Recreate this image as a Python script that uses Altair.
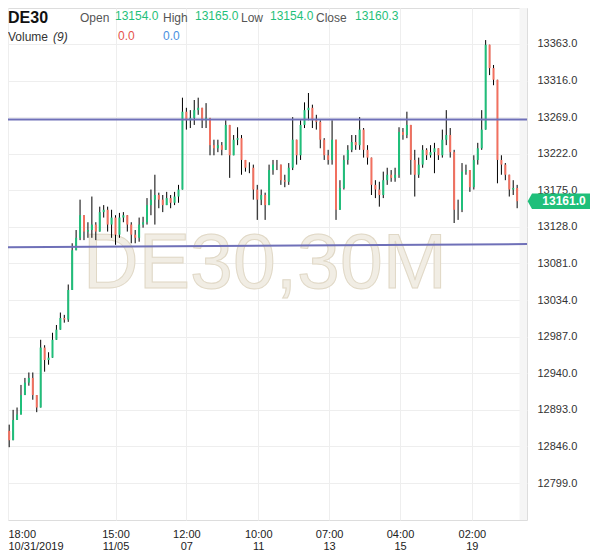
import json
import altair as alt
import pandas as pd

# ---- data (DE30, 30-minute candles, ~2 candles per point) ----
first_open = 12866
closes = [12854, 12880, 12887, 12912, 12928, 12934, 12912, 12896, 12973, 12957,
          12960, 12983, 12996, 13011, 13009, 13047, 13098, 13114, 13143, 13122,
          13124, 13131, 13122, 13147, 13150, 13131, 13140, 13118, 13140, 13143,
          13131, 13118, 13114, 13131, 13134, 13156, 13163, 13169, 13163, 13156,
          13165, 13159, 13167, 13176, 13276, 13265, 13268, 13278, 13281, 13265,
          13268, 13233, 13229, 13233, 13227, 13259, 13220, 13240, 13242, 13214,
          13204, 13204, 13176, 13163, 13169, 13156, 13201, 13208, 13208, 13188,
          13186, 13204, 13240, 13220, 13259, 13278, 13281, 13265, 13263, 13240,
          13220, 13214, 13240, 13150, 13178, 13214, 13227, 13237, 13233, 13253,
          13227, 13217, 13182, 13176, 13169, 13188, 13195, 13191, 13195, 13250,
          13246, 13259, 13214, 13195, 13208, 13227, 13220, 13224, 13229, 13220,
          13240, 13246, 13224, 13150, 13150, 13199, 13201, 13179, 13214, 13229,
          13253, 13362, 13332, 13317, 13214, 13208, 13195, 13176, 13178, 13161]
highs = [12874, 12893, 12896, 12925, 12934, 12941, 12941, 12908, 12983, 12976,
         12967, 12992, 13002, 13018, 13015, 13054, 13107, 13124, 13163, 13131,
         13134, 13167, 13134, 13154, 13156, 13154, 13150, 13143, 13146, 13147,
         13143, 13134, 13124, 13140, 13141, 13165, 13176, 13195, 13172, 13169,
         13173, 13169, 13173, 13182, 13294, 13281, 13278, 13291, 13294, 13278,
         13287, 13268, 13240, 13240, 13237, 13265, 13259, 13246, 13256, 13246,
         13214, 13211, 13208, 13182, 13176, 13172, 13208, 13214, 13214, 13208,
         13195, 13210, 13269, 13240, 13265, 13288, 13300, 13285, 13272, 13265,
         13242, 13227, 13265, 13240, 13188, 13220, 13233, 13246, 13246, 13269,
         13255, 13233, 13214, 13188, 13186, 13199, 13204, 13201, 13204, 13256,
         13255, 13276, 13255, 13227, 13217, 13233, 13229, 13233, 13236, 13229,
         13253, 13278, 13255, 13227, 13163, 13210, 13208, 13201, 13220, 13236,
         13278, 13368, 13346, 13336, 13310, 13220, 13210, 13188, 13188, 13182]
lows = [12845, 12854, 12880, 12887, 12919, 12924, 12906, 12890, 12899, 12942,
        12951, 12960, 12983, 12996, 13005, 13006, 13047, 13098, 13111, 13111,
        13114, 13114, 13111, 13122, 13140, 13122, 13114, 13105, 13114, 13134,
        13122, 13107, 13107, 13109, 13127, 13131, 13143, 13131, 13152, 13147,
        13156, 13152, 13156, 13159, 13176, 13253, 13255, 13259, 13272, 13255,
        13255, 13220, 13220, 13224, 13220, 13227, 13191, 13227, 13233, 13195,
        13199, 13197, 13163, 13137, 13156, 13137, 13156, 13195, 13201, 13182,
        13179, 13182, 13201, 13208, 13214, 13255, 13265, 13255, 13253, 13229,
        13214, 13208, 13208, 13137, 13163, 13176, 13208, 13224, 13227, 13227,
        13217, 13208, 13169, 13165, 13154, 13165, 13182, 13186, 13186, 13191,
        13240, 13242, 13195, 13167, 13191, 13204, 13214, 13217, 13197, 13214,
        13217, 13233, 13217, 13133, 13137, 13147, 13195, 13173, 13176, 13208,
        13227, 13265, 13323, 13310, 13184, 13195, 13188, 13167, 13169, 13152]

tick_idx = [-0.3, 27, 45, 63.25, 81.25, 99.25, 117.5]
tick_time = ["18:00", "15:00", "12:00", "10:00", "07:00", "04:00", "02:00"]
tick_date = ["10/31/2019", "11/05", "07", "11", "13", "15", "19"]
price_ticks = [12799, 12846, 12893, 12940, 12987, 13034, 13081, 13128,
               13175, 13222, 13269, 13316, 13363]

level_names = ["resistance", "support"]
level_start = [13266, 13102]
level_end = [13266, 13106]

header_ohlc = ["13154.0", "13165.0", "13154.0", "13160.3"]
header_vol = ["0.0", "0.0"]
symbol = "DE30"
timeframe = "30M"

# ---- build tables ----
n = len(closes)
opens = [first_open] + closes[:-1]
df = pd.DataFrame({"i": list(range(n)), "open": opens, "close": closes,
                   "high": highs, "low": lows})
df["high"] = df[["high", "open", "close"]].max(axis=1)
df["low"] = df[["low", "open", "close"]].min(axis=1)

x_min, x_max = -0.3, 131.5
lv = pd.DataFrame({
    "name": level_names * 2,
    "i": [x_min] * 2 + [x_max] * 2,
    "p": level_start + level_end,
})

GREEN = "#1fbf7a"
RED = "#f2705f"
FONT = "Liberation Sans"

labs = [f"{a}|{b}" for a, b in zip(tick_time, tick_date)]
label_expr = f"split({json.dumps(labs)}[indexof({json.dumps(tick_idx)}, datum.value)], '|')"

xs = alt.Scale(domain=[x_min, x_max], nice=False, zero=False)
ys = alt.Scale(domain=[12751.5, 13409.2], nice=False, zero=False)
xaxis = alt.Axis(values=tick_idx, labelExpr=label_expr, title=None, grid=True,
                 gridColor="#eeeeee", ticks=False, domain=False, labelFontSize=11,
                 labelColor="#222222", labelPadding=8, labelLineHeight=12,
                 labelFlush=True, labelOverlap=False, labelFont=FONT)
yaxis = alt.Axis(values=price_ticks, format=".1f", title=None, orient="right",
                 grid=True, gridColor="#eeeeee", ticks=False, domain=False,
                 labelFontSize=11, labelColor="#333333", labelPadding=10,
                 labelFlush=False, labelOverlap=False, labelFont=FONT)

X = alt.X("i:Q", scale=xs, axis=xaxis)

hatch = alt.Chart(pd.DataFrame({"a": [129.6], "b": [x_max]})).mark_rect(
    color="#f5f5f5").encode(
    x=alt.X("a:Q", scale=xs, axis=xaxis), x2="b:Q",
    y=alt.value(0), y2=alt.value(512))

watermark = alt.Chart(pd.DataFrame({"t": [f"{symbol},{timeframe}"]})).mark_text(
    fontSize=77, font=FONT, fill="#f1ede4", stroke="#e0d8c6", strokeWidth=1,
    align="center", baseline="alphabetic").encode(
    text="t:N", x=alt.value(257), y=alt.value(280))

wick = alt.Chart(df).mark_rule(color="#000000", strokeWidth=1).encode(
    x=X, y=alt.Y("low:Q", scale=ys, axis=yaxis), y2="high:Q")

body = alt.Chart(df).mark_rule(strokeWidth=2).encode(
    x=X, y=alt.Y("open:Q", scale=ys, axis=yaxis), y2="close:Q",
    color=alt.condition("datum.close >= datum.open", alt.value(GREEN), alt.value(RED)))

levels = alt.Chart(lv).mark_line(color="#6f70b8", strokeWidth=2).encode(
    x=X, y=alt.Y("p:Q", scale=ys, axis=yaxis), detail="name:N")

last = pd.DataFrame({"p": [closes[-1]], "t": [f"{closes[-1]:.1f}"]})
tag = alt.Chart(last).mark_point(
    shape="M-1.15,0L-1,-0.27L1,-0.27L1,0.27L-1,0.27Z", size=3364, filled=True,
    fill=GREEN, opacity=1, strokeWidth=0).encode(
    x=alt.value(553), y=alt.Y("p:Q", scale=ys, axis=yaxis))
tag_text = alt.Chart(last).mark_text(
    color="white", fontWeight="bold", fontSize=12, font=FONT, align="center",
    baseline="middle").encode(
    x=alt.value(556), y=alt.Y("p:Q", scale=ys, axis=yaxis), text="t:N")

def label(txt, x, y, color, size=12, weight="normal", style="normal"):
    return alt.Chart(pd.DataFrame({"t": [txt]})).mark_text(
        color=color, fontSize=size, fontWeight=weight, fontStyle=style, font=FONT,
        align="left", baseline="alphabetic").encode(
        text="t:N", x=alt.value(x), y=alt.value(y))

GRAY = "#555555"
header = [
    label(symbol, 0, 15, "#111111", size=16, weight="bold"),
    label("Open", 72, 14, GRAY),
    label(header_ohlc[0], 107, 12, GREEN),
    label("High", 155, 14, GRAY),
    label(header_ohlc[1], 187, 12, GREEN),
    label("Low", 233, 14, GRAY),
    label(header_ohlc[2], 262, 12, GREEN),
    label("Close", 308, 14, GRAY),
    label(header_ohlc[3], 347, 12, GREEN),
    label("Volume", 0, 33, "#333333"),
    label("(9)", 45, 33, "#333333", style="italic"),
    label(header_vol[0], 110, 32, "#e5534b"),
    label(header_vol[1], 155, 32, "#4a8fe0"),
]

chart = alt.layer(hatch, watermark, wick, body, levels, tag, tag_text, *header).properties(
    width=519, height=512,
    autosize=alt.AutoSizeParams(type="none"),
    padding={"left": 0, "top": 0, "right": 65, "bottom": 30},
    background="white",
).configure_view(stroke=None).configure(font=FONT)

chart.save("out.html", embed_options={"renderer": "svg", "actions": False})
